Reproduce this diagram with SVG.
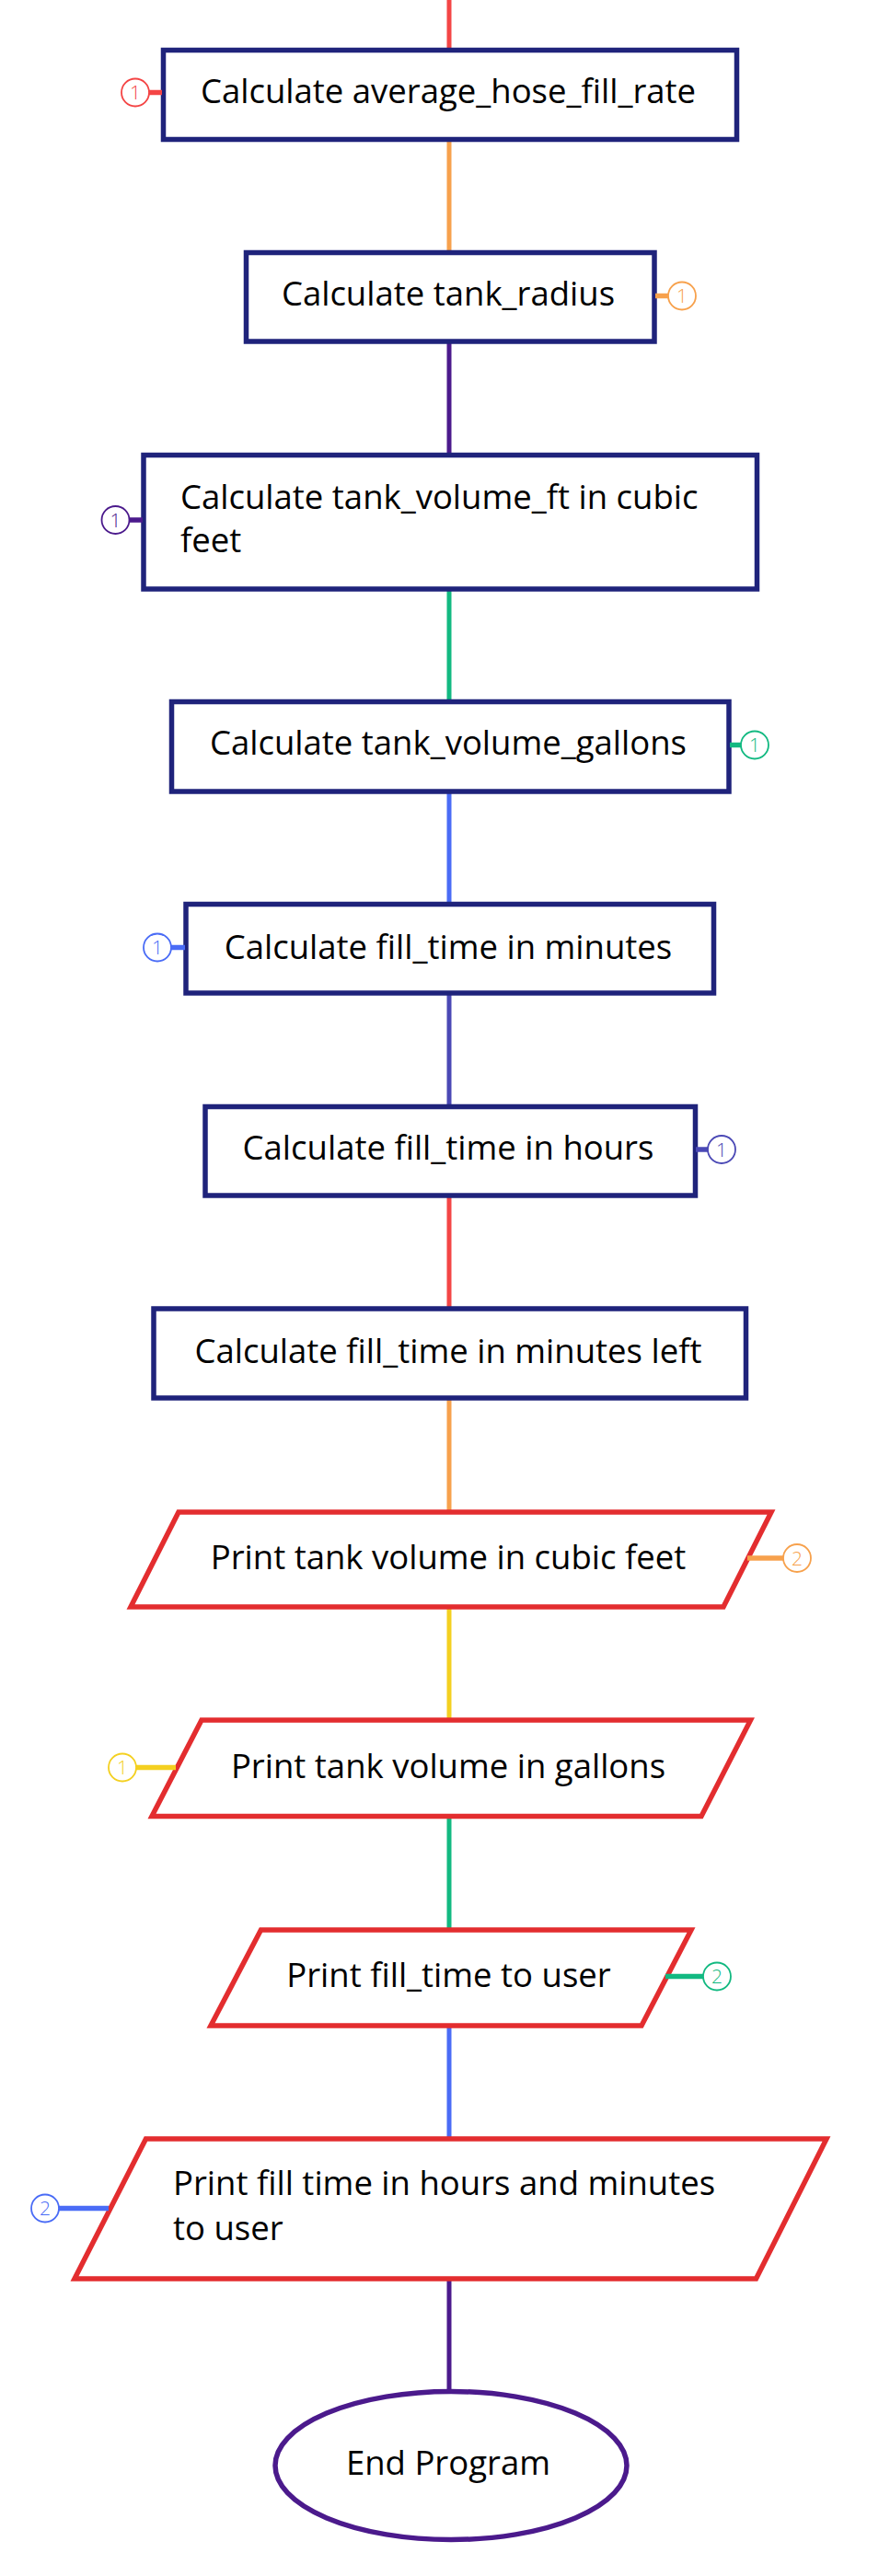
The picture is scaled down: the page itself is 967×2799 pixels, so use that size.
<svg xmlns="http://www.w3.org/2000/svg" width="967" height="2799" viewBox="0 0 967 2799">
<style>
.bg{fill:#ffffff}
.proc{fill:#ffffff;stroke:#1f237b;stroke-width:5.5}
.io{fill:#ffffff;stroke:#e32d2f;stroke-width:5.5;stroke-linejoin:miter}
.term{fill:#ffffff;stroke:#4b1a8c;stroke-width:5.5}
.lbl{font-family:"Open Sans","Noto Sans",sans-serif;font-size:36.5px;fill:#000000}
.c{text-anchor:middle}
.edge{fill:none;stroke-width:5}
.stub{fill:none;stroke-width:5.5}
.badge{fill:#ffffff;stroke-width:1.8}
.num{font-family:"Open Sans","Noto Sans",sans-serif;font-size:21px;font-weight:300;text-anchor:middle}
.red{stroke:#f44545}.redf{fill:#f44545}
.org{stroke:#f7a14c}.orgf{fill:#f7a14c}
.pur{stroke:#4b1a8c}.purf{fill:#4b1a8c}
.grn{stroke:#12b981}.grnf{fill:#12b981}
.blu{stroke:#4a6cf6}.bluf{fill:#4a6cf6}
.ind{stroke:#4a48b5}.indf{fill:#4a48b5}
.yel{stroke:#f4d020}.yelf{fill:#f4d020}
</style>
<rect class="bg" x="0" y="0" width="967" height="2799"/>
<g id="connectors">
<line class="edge red" x1="488" y1="0" x2="488" y2="54"/>
<line class="edge org" x1="488" y1="151" x2="488" y2="274"/>
<line class="edge pur" x1="488" y1="371" x2="488" y2="494"/>
<line class="edge grn" x1="488" y1="640" x2="488" y2="762"/>
<line class="edge blu" x1="488" y1="860" x2="488" y2="982"/>
<line class="edge ind" x1="488" y1="1079" x2="488" y2="1202"/>
<line class="edge red" x1="488" y1="1299" x2="488" y2="1422"/>
<line class="edge org" x1="488" y1="1519" x2="488" y2="1643"/>
<line class="edge yel" x1="488" y1="1746" x2="488" y2="1869"/>
<line class="edge grn" x1="488" y1="1973" x2="488" y2="2097"/>
<line class="edge blu" x1="488" y1="2201" x2="488" y2="2324"/>
<line class="edge pur" x1="488" y1="2476" x2="488" y2="2599"/>
</g>
<g id="node1">
<rect class="proc" x="177.5" y="54.5" width="623" height="97"/>
<text class="lbl c" x="487" y="112">Calculate average_hose_fill_rate</text>
<line class="stub red" x1="162" y1="100.5" x2="176" y2="100.5"/>
<circle class="badge red" cx="147" cy="100.5" r="15"/>
<text class="num redf" x="147" y="108">1</text>
</g>
<g id="node2">
<rect class="proc" x="267.5" y="274.5" width="443.5" height="96.5"/>
<text class="lbl c" x="487" y="332">Calculate tank_radius</text>
<line class="stub org" x1="712" y1="321.5" x2="726" y2="321.5"/>
<circle class="badge org" cx="741" cy="321.5" r="15"/>
<text class="num orgf" x="741" y="329">1</text>
</g>
<g id="node3">
<rect class="proc" x="156" y="494.5" width="666.5" height="145.5"/>
<text class="lbl" x="196" y="552.5">Calculate tank_volume_ft in cubic</text>
<text class="lbl" x="196" y="600">feet</text>
<line class="stub pur" x1="140" y1="565" x2="155" y2="565"/>
<circle class="badge pur" cx="125.5" cy="565" r="15"/>
<text class="num purf" x="125.5" y="572.5">1</text>
</g>
<g id="node4">
<rect class="proc" x="186.5" y="762.5" width="605.5" height="97.5"/>
<text class="lbl c" x="487" y="820">Calculate tank_volume_gallons</text>
<line class="stub grn" x1="793" y1="809.5" x2="805" y2="809.5"/>
<circle class="badge grn" cx="820" cy="809.5" r="15"/>
<text class="num grnf" x="820" y="817">1</text>
</g>
<g id="node5">
<rect class="proc" x="202" y="982.5" width="573.5" height="96.5"/>
<text class="lbl c" x="487" y="1041.5">Calculate fill_time in minutes</text>
<line class="stub blu" x1="185" y1="1029.5" x2="201" y2="1029.5"/>
<circle class="badge blu" cx="171" cy="1029.5" r="15"/>
<text class="num bluf" x="171" y="1037">1</text>
</g>
<g id="node6">
<rect class="proc" x="223" y="1202.5" width="532.5" height="96.5"/>
<text class="lbl c" x="487" y="1260">Calculate fill_time in hours</text>
<line class="stub ind" x1="756" y1="1249" x2="770" y2="1249"/>
<circle class="badge ind" cx="784" cy="1249" r="15"/>
<text class="num indf" x="784" y="1256.5">1</text>
</g>
<g id="node7">
<rect class="proc" x="167" y="1422" width="643.5" height="97"/>
<text class="lbl c" x="487" y="1480.5">Calculate fill_time in minutes left</text>
</g>
<g id="node8">
<polygon class="io" points="194,1643 838,1643 786,1746 142,1746"/>
<text class="lbl c" x="487" y="1705">Print tank volume in cubic feet</text>
<line class="stub org" x1="812" y1="1693" x2="851" y2="1693"/>
<circle class="badge org" cx="866" cy="1693" r="15"/>
<text class="num orgf" x="866" y="1700.5">2</text>
</g>
<g id="node9">
<polygon class="io" points="219,1869 815.5,1869 762,1973.5 165,1973.5"/>
<text class="lbl c" x="487" y="1931.5">Print tank volume in gallons</text>
<line class="stub yel" x1="148" y1="1920.5" x2="191" y2="1920.5"/>
<circle class="badge yel" cx="133" cy="1920.5" r="15"/>
<text class="num yelf" x="133" y="1928">1</text>
</g>
<g id="node10">
<polygon class="io" points="283.5,2097 751,2097 697,2201 229,2201"/>
<text class="lbl c" x="487.5" y="2158.5">Print fill_time to user</text>
<line class="stub grn" x1="723" y1="2147.5" x2="764" y2="2147.5"/>
<circle class="badge grn" cx="779" cy="2147.5" r="15"/>
<text class="num grnf" x="779" y="2155">2</text>
</g>
<g id="node11">
<polygon class="io" points="158.5,2324 898,2324 821.5,2476 81,2476"/>
<text class="lbl" x="188" y="2385">Print fill time in hours and minutes</text>
<text class="lbl" x="188" y="2433.5">to user</text>
<line class="stub blu" x1="64" y1="2399.5" x2="118" y2="2399.5"/>
<circle class="badge blu" cx="49" cy="2399.5" r="15"/>
<text class="num bluf" x="49" y="2407">2</text>
</g>
<g id="node12">
<ellipse class="term" cx="490" cy="2679" rx="191" ry="80.5"/>
<text class="lbl c" x="487" y="2688.5">End Program</text>
</g>
</svg>
